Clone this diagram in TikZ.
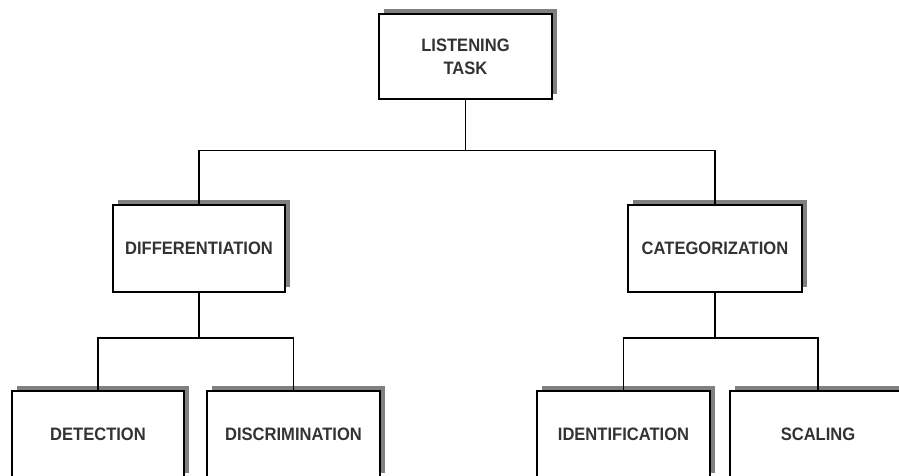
\documentclass[tikz,border=0pt]{standalone}
\usepackage{fontspec}
\setmainfont{Liberation Sans}
\newfontfamily\boxfont{Liberation Sans}[FakeStretch=0.92]
\usepackage{tikz}
\usetikzlibrary{shadows, positioning}
\usepackage{xcolor}

\begin{document}
\begin{tikzpicture}[
    task/.style = {rectangle, draw=black, line width=1.4pt, fill=white, inner sep=0pt,
                   minimum width=4.3cm, minimum height=2.175cm, align=center,
                   text=black!80, font=\boxfont\bfseries\fontsize{12.8}{16.3}\selectfont,
                   general shadow={fill=black!50, shadow xshift=0.12cm, shadow yshift=0.12cm}},
    link/.style = {draw=black, line width=1.4pt}
]
\useasboundingbox (0,0) rectangle (22.475,11.9);

% Root
\node (T) [task, minimum width=4.325cm, minimum height=2.125cm] at (11.6375, 10.4875) {LISTENING\\TASK};

% Second level
\node (D) [task] at (4.975, 5.6875) {DIFFERENTIATION};
\node (C) [task, minimum width=4.35cm] at (17.875, 5.6875) {CATEGORIZATION};

% Third level
\node (D1) [task] at (2.45, 1.0375) {DETECTION};
\node (D2) [task, minimum width=4.325cm] at (7.3375, 1.0375) {DISCRIMINATION};
\node (C1) [task, minimum width=4.325cm] at (15.5875, 1.0375) {IDENTIFICATION};
\node (C2) [task, minimum width=4.4cm] at (20.45, 1.0375) {SCALING};

% Branch points
\coordinate (B0) at (11.6375, 8.1375);
\coordinate (B1) at (4.975, 3.45);
\coordinate (B2) at (17.875, 3.45);

% Connections
\draw [link] (T.south) -- (B0);
\draw [link] (D.north) |- (B0) -| (C.north);
\draw [link] (D.south) -- (B1);
\draw [link] (D1.north) |- (B1) -| (D2.north);
\draw [link] (C.south) -- (B2);
\draw [link] (C1.north) |- (B2) -| (C2.north);

\end{tikzpicture}
\end{document}
